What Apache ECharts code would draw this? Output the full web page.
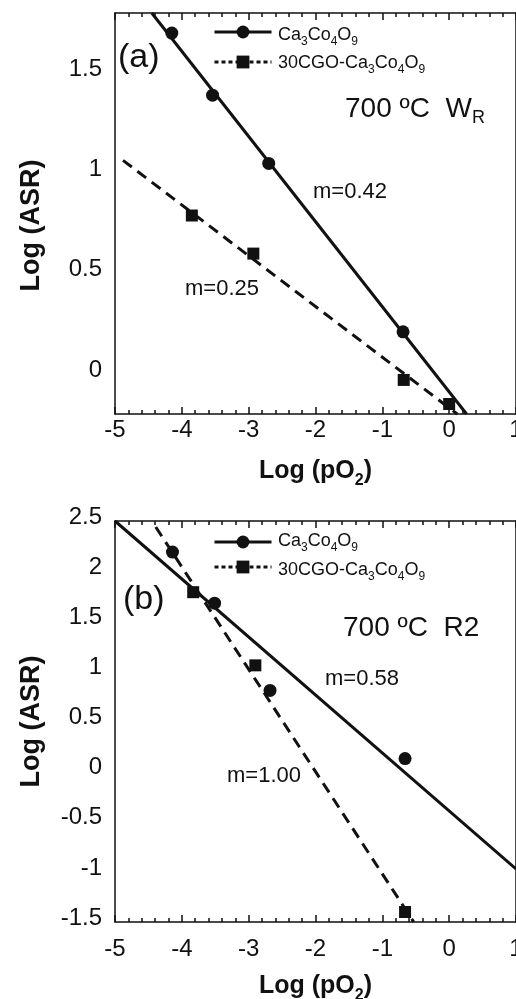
<!DOCTYPE html>
<html><head><meta charset="utf-8">
<script src="https://cdn.jsdelivr.net/npm/echarts@6/dist/echarts.min.js"></script>
<style>html,body{margin:0;padding:0;background:#fff}#c{width:516px;height:999px}</style>
</head><body><div id="c"></div>
<script>
// ---- data ----
const seriesNames = ['Ca3Co4O9', '30CGO-Ca3Co4O9'];
// panel (a): 700 ºC W_R
const caA_x = [-4.15, -3.54, -2.70, -0.69];
const caA_y = [1.70, 1.39, 1.05, 0.21];
const cgoA_x = [-3.85, -2.93, -0.68, 0.00];
const cgoA_y = [0.79, 0.60, -0.03, -0.15];
const fitCaA_x = [-4.45, 0.26];
const fitCaA_y = [1.80, -0.20];
const fitCgoA_x = [-4.88, 0.12];
const fitCgoA_y = [1.065, -0.20];
// panel (b): 700 ºC R2
const caB_x = [-4.14, -3.51, -2.68, -0.66];
const caB_y = [2.19, 1.68, 0.81, 0.13];
const cgoB_x = [-3.83, -2.90, -0.66];
const cgoB_y = [1.79, 1.06, -1.40];
const fitCaB_x = [-5.0, 1.0];
const fitCaB_y = [2.50, -0.97];
const fitCgoB_x = [-4.39, -0.53];
const fitCgoB_y = [2.44, -1.50];
// axes
const xRange = [-5, 1], xStep = 1;
const yRangeA = [-0.2, 1.8], yStepA = 0.1, yLabelStepA = 0.5;
const yRangeB = [-1.5, 2.5], yStepB = 0.5;
const slopeLabels = ['m=0.42', 'm=0.25', 'm=0.58', 'm=1.00'];
const legendLabels = ['{n|Ca}{s|3}{n|Co}{s|4}{n|O}{s|9}', '{n|30CGO-Ca}{s|3}{n|Co}{s|4}{n|O}{s|9}'];

const zip = (xs, ys) => xs.map((x, i) => [x, ys[i]]);
const FONT = 'Liberation Sans, Arial, Helvetica, sans-serif';
const INK = '#111';

function makeLegend(name, left, iconCenterY, dotted) {
  return {
    data: [name], left: left, top: iconCenterY - 8, orient: 'vertical', padding: 0,
    itemWidth: 57, itemHeight: 16, selectedMode: false,
    lineStyle: dotted ? { type: [4, 3], width: 3 } : { width: 3 },
    itemStyle: { opacity: 1 },
    formatter: () => ''
  };
}

function xAxes(grid) {
  const mk = (pos, withLabels) => {
    const ax = {
      gridIndex: grid, type: 'value', position: pos, min: xRange[0], max: xRange[1], interval: xStep,
      axisLine: { show: true, onZero: false, lineStyle: { color: INK, width: 1.5 } },
      axisTick: { show: true, inside: true, length: 7, lineStyle: { color: INK, width: 1.5 } },
      minorTick: { show: true, splitNumber: 5, length: 4, lineStyle: { color: INK, width: 1.5 } },
      splitLine: { show: false }
    };
    if (withLabels) {
      ax.axisLabel = { fontFamily: FONT, fontSize: 24, color: INK, margin: grid === 0 ? 4 : 15 };
      ax.name = '{n|Log (pO}{s|2}{n|)}';
      ax.nameLocation = 'middle';
      ax.nameGap = grid === 0 ? 45 : 48;
      ax.nameTextStyle = { rich: {
        n: { fontFamily: FONT, fontSize: 25, fontWeight: 'bold', color: INK, lineHeight: 30, verticalAlign: 'top' },
        s: { fontFamily: FONT, fontSize: 16, fontWeight: 'bold', color: INK, lineHeight: 16, verticalAlign: 'bottom', padding: [26, 0, 0, 0] }
      } };
    } else {
      ax.axisLabel = { show: false };
    }
    return ax;
  };
  return [mk('bottom', true), mk('top', false)];
}
function yAxes(grid, range, step, fmt, nameShift) {
  const common = {
    gridIndex: grid, type: 'value', min: range[0], max: range[1], interval: step,
    axisLine: { show: true, onZero: false, lineStyle: { color: INK, width: 1.5 } },
    axisTick: { show: false }, splitLine: { show: false }
  };
  return [
    Object.assign({}, common, {
      position: 'left',
      axisLabel: { color: INK, margin: 13, formatter: fmt,
        rich: { v: { fontFamily: FONT, fontSize: 24, color: INK, lineHeight: 24, padding: [0, 0, 8, 0] } } },
      name: 'Log (ASR)', nameLocation: 'middle', nameGap: 70,
      nameTextStyle: { fontFamily: FONT, fontSize: 27, fontWeight: 'bold', color: INK, padding: [0, nameShift, 0, 0] }
    }),
    Object.assign({}, common, { position: 'right', axisLabel: { show: false } })
  ];
}
const fmtA = v => { const h = v / yLabelStepA; if (Math.abs(h - Math.round(h)) > 1e-6) return ''; return '{v|' + String(Math.round(h) * yLabelStepA) + '}'; };
const fmtB = v => '{v|' + String(Math.round(v * 10) / 10) + '}';

function fitSeries(name, grid, data, dashed, symbol) {
  return {
    type: 'line', name: name, xAxisIndex: grid * 2, yAxisIndex: grid * 2, data: data,
    symbol: symbol, showSymbol: false, silent: true, color: INK,
    lineStyle: { color: INK, width: 3, type: dashed ? [11, 7] : 'solid' }, z: 2
  };
}
function pointSeries(name, grid, data, symbol, size) {
  return {
    type: 'scatter', name: name, xAxisIndex: grid * 2, yAxisIndex: grid * 2, data: data,
    symbol: symbol, symbolSize: size, color: INK, itemStyle: { color: INK, opacity: 1 }, z: 3
  };
}

function txt(text, x, y, size, align) {
  return { type: 'text', x: x, y: y, style: { text: text, fontFamily: FONT, fontSize: size, fill: INK, align: align || 'left', verticalAlign: 'middle' } };
}
function richTxt(text, x, y, size, subSize, subDrop) {
  return { type: 'text', x: x, y: y, style: {
    text: text, align: 'left', verticalAlign: 'middle',
    rich: {
      n: { fontFamily: FONT, fontSize: size, fill: INK, lineHeight: size + 4, verticalAlign: 'top' },
      s: { fontFamily: FONT, fontSize: subSize, fill: INK, lineHeight: subSize, verticalAlign: 'bottom', padding: [subDrop, 0, 0, 0] }
    } } };
}

const chart = echarts.init(document.getElementById('c'), null, { renderer: 'canvas' });
chart.setOption({
  backgroundColor: '#fff',
  animation: false,
  grid: [
    { left: 115, top: 13, width: 401, height: 401, outerBoundsMode: 'none' },
    { left: 115, top: 521, width: 401, height: 401, outerBoundsMode: 'none' }
  ],
  xAxis: [...xAxes(0), ...xAxes(1)],
  yAxis: [...yAxes(0, yRangeA, yStepA, fmtA, 24), ...yAxes(1, yRangeB, yStepB, fmtB, 0)],
  legend: [
    makeLegend(seriesNames[0], 213, 32, false),
    makeLegend(seriesNames[1], 213, 62, true),
    makeLegend(seriesNames[0], 213, 542, false),
    makeLegend(seriesNames[1], 213, 567, true)
  ],
  series: [
    fitSeries(seriesNames[0], 0, zip(fitCaA_x, fitCaA_y), false, 'circle'),
    fitSeries(seriesNames[1], 0, zip(fitCgoA_x, fitCgoA_y), true, 'rect'),
    pointSeries(seriesNames[0], 0, zip(caA_x, caA_y), 'circle', 13),
    pointSeries(seriesNames[1], 0, zip(cgoA_x, cgoA_y), 'rect', 12),
    fitSeries(seriesNames[0], 1, zip(fitCaB_x, fitCaB_y), false, 'circle'),
    fitSeries(seriesNames[1], 1, zip(fitCgoB_x, fitCgoB_y), true, 'rect'),
    pointSeries(seriesNames[0], 1, zip(caB_x, caB_y), 'circle', 13),
    pointSeries(seriesNames[1], 1, zip(cgoB_x, cgoB_y), 'rect', 12)
  ],
  graphic: [
    richTxt(legendLabels[0], 278, 36.75, 18, 12, 21.5),
    richTxt(legendLabels[1], 278, 65, 18, 12, 21.5),
    richTxt(legendLabels[0], 278, 543, 18, 12, 21.5),
    richTxt(legendLabels[1], 278, 572, 18, 12, 21.5),
    txt('(a)', 118, 58, 34),
    richTxt('{n|700 ºC  W}{s|R}', 345, 111.5, 28, 18, 17),
    txt(slopeLabels[0], 313, 192, 22),
    txt(slopeLabels[1], 185, 289, 22),
    txt('(b)', 123, 600, 34),
    txt('700 ºC  R2', 343, 628, 28),
    txt(slopeLabels[2], 325, 679, 22),
    txt(slopeLabels[3], 227, 776, 22)
  ]
});
</script></body></html>
